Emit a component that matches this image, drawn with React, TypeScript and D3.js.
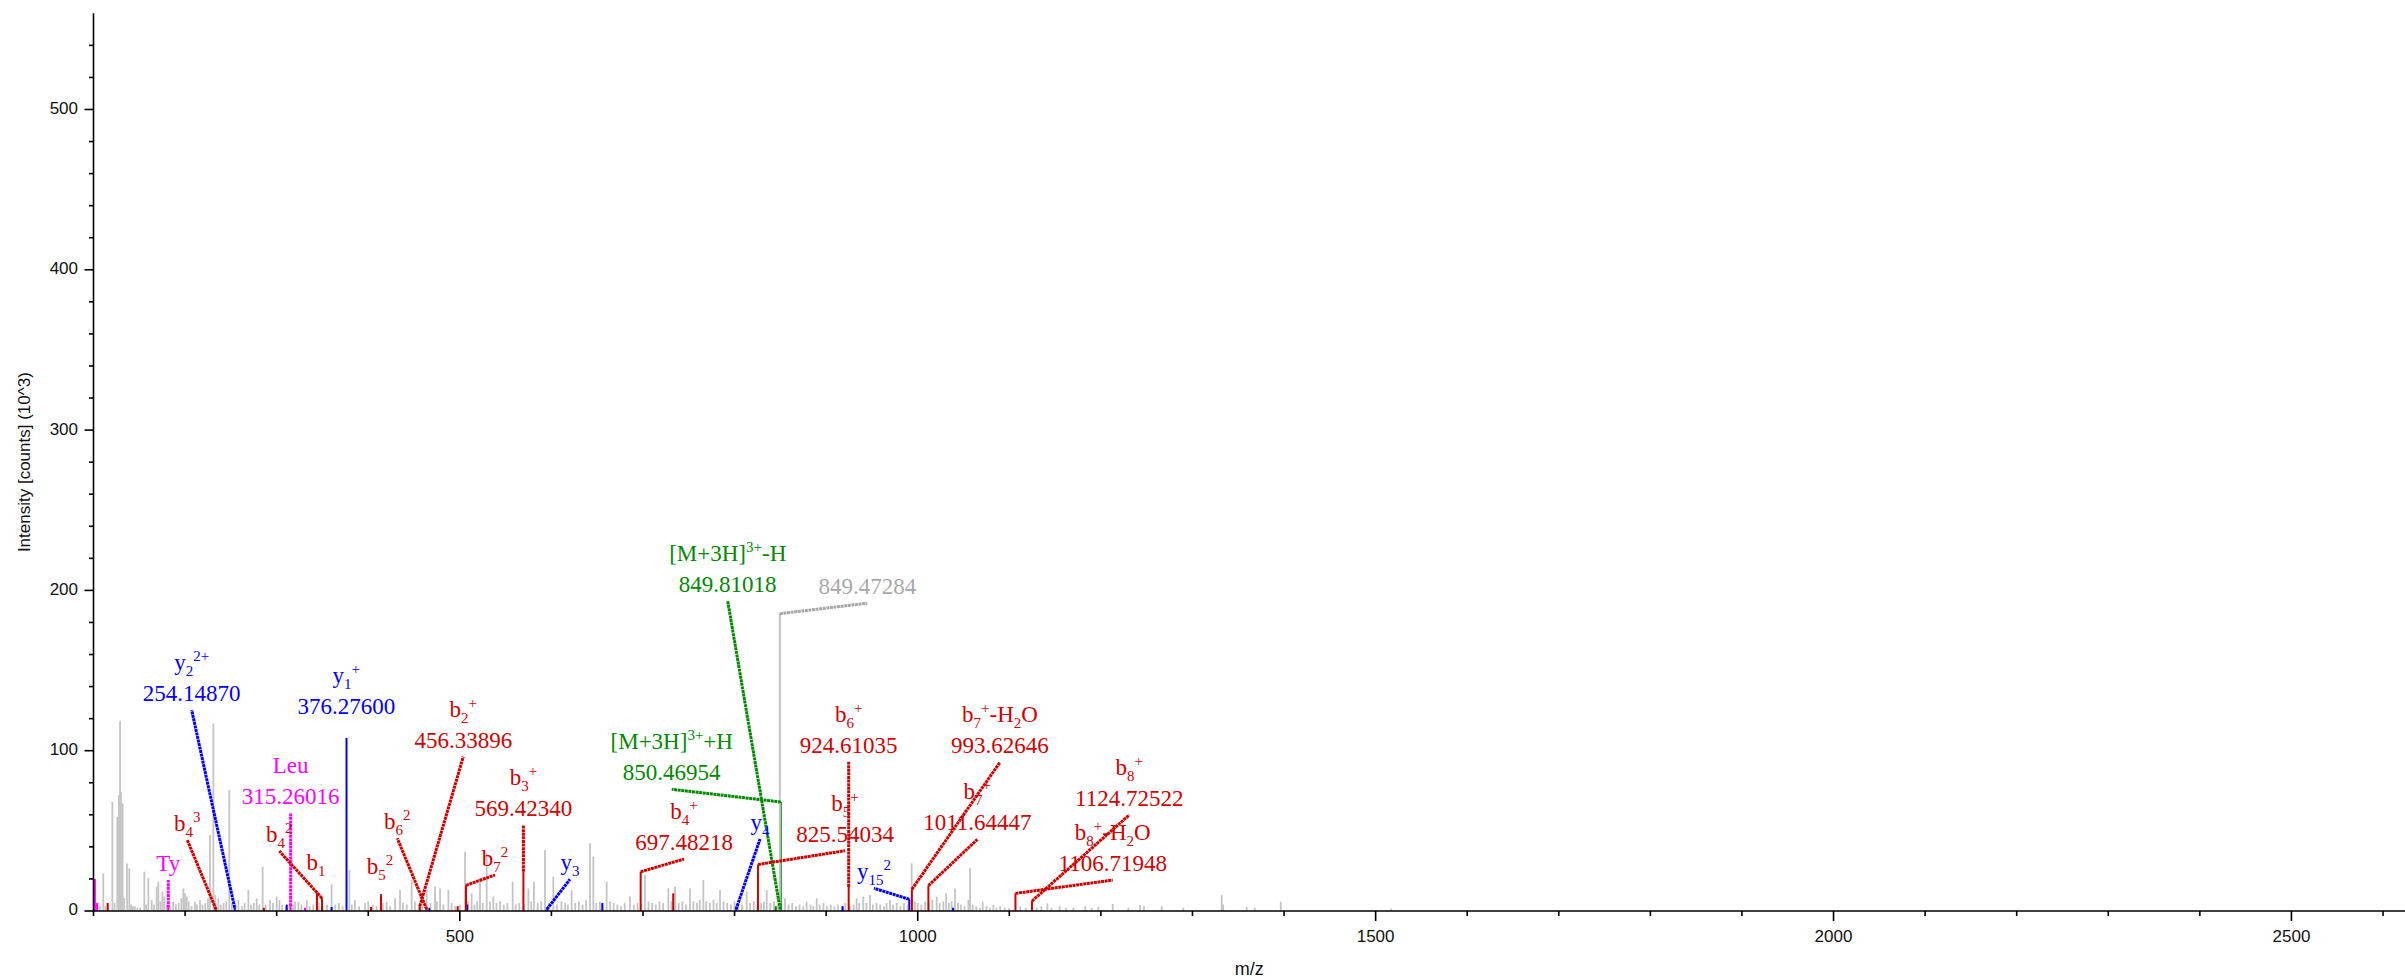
import React, { useEffect } from 'react';
import * as d3 from 'd3';

const W = 2405;
const H = 980;

// ---------- unassigned (gray) peaks: m/z and intensity (10^3 counts) ----------
const grayMz = [103,107,110.7,113,116,120.6,123,126,127.8,129,130,131.8,133.5,136.6,139.1,141,143,145,148,151,155.5,157.5,159.9,163.5,166,169,170.8,173,175.2,177.3,180,184,187,190,193,196,198.1,199.9,201.7,204,207,210.8,213,216.3,219,222,225,227.2,230.9,233,236.3,239,242,245,248.3,251,255,258.2,262,265,269.1,272,275,278.2,281,284.7,288,292.7,296,300,303,306,310,314,318,320,323.7,327,332.8,336,340,346,350,355,360,364,368,372,379.4,382,385.5,390,396.5,400,405,409,416,420.1,424,429.2,434.7,438,442,447.4,451,455,459,463.8,468,472.9,475,478.4,482,487.5,491,495,500,505.7,509,512.9,516,519,522,525,529.3,533,536.6,540,544,548,552,557.7,561,565,570,574.8,578,581,585,589,593,597,602.1,606,611,615,618,622.1,626,630,634,638,642.2,645.8,649,653,656,660.3,664,668,672,676,680,685.8,690,694,698,702.2,706,710,714,718,722,727.7,731,735,739,743,747,751.3,755,759,762,765.9,769,773,777,780.5,784.1,788,792,796,800,804,808,813.2,817,821,825,829,832,835.1,839,843,847,851,855.1,859,863,867,871,875,878.7,883,886,889.7,893,897,901,905,909,913,917,921,926,930,933.3,936,940.6,944,947.9,951,955,959,963,966,969.7,973,977,981,985,989,993.4,997,1000,1004,1008,1012,1016,1020.7,1024,1028,1031,1034,1037,1040.7,1044,1047,1051,1055.3,1057.1,1060,1064,1068,1071,1075,1079,1082.6,1086,1090,1095,1100,1112,1118,1130,1135,1141.6,1146,1155,1162,1170,1183,1190,1197.3,1212.9,1230,1242.8,1247,1266.4,1290,1331.9,1333.5,1359.2,1368,1396.4,1517];
const grayInt = [4,3,23.5,3,2,68.2,5,58.8,72.3,118.7,74.4,67.1,8,29.7,26.6,4,3,3,2,2,24.5,4,20.4,6.9,4,15.2,18.3,6,12,9,4,3,6,4,5,8,14.1,11,9,6,3,5.8,4,6.9,4,5,8,47.4,117,10,7.9,4,5,6,75.5,5,4,6.9,3,5,13.1,4,5,7.9,4,27.6,4,6.9,5,9,6.9,4,3,5,4,6,5.8,4,6.9,3,4,5,3,4,16.6,4,5,3,25.6,4,6.9,3,4.8,6,4,3,5,5.8,3,7.9,13.1,5,4,19.3,6,4,3,13.1,5,15.2,6,14.1,4,13.1,5,3,4,37,6,11,4,6,18.3,5,36,6,9,5,6,4,5,18.3,4,5,4,14.1,6,18.3,5,6,38,5,21.4,4,6,5,4,13.1,5,6,4,7,42.2,33.9,5,6,4,18.3,6,5,4,3,5,9,4,5,4,22.5,6,5,4,6,5,14.1,6,15.2,5,6,4,14.1,6,5,7,19.3,6,5,7,5,13.1,6,5,4,6,5,4,12,5,6,4,5,6,13.1,5,6,4,5,7.9,4,5,3,4,3,5.8,4,3,7.9,4,5,3,4,3,4,3,5,3,4,7.9,5,9,5,10,4,5,4,3,5,6.9,4,5,3,5,4,29.7,6,5,4,6,5,7,9,5,6,11,5,6,14.1,5,4,3,6.9,26.6,4,3,2,5.8,3,2,3.7,2,3,2,2,3,2,2,3,4.8,2,3,2,2,3,2,2.7,4.4,2,3.7,3,3,2,10,4,2.7,2,5.8,1.5];

// ---------- matched peaks without a label ----------
const matchedMz = [101.5,104,115.5,286,311,331,360,403,466.7,497.7,508,655.6,733,845,918,1038.6];
const matchedInt = [20,5,5,2,4,2,2.5,2.5,2,3,4,5,11,3,3,2];
const matchedType = ['imm','imm','b','b','y','imm','y','b','y','b','y','y','b','prec','y','y'];

// ---------- annotated peaks ----------
const annName = ['y_{2}^{2+}','Ty','b_{4}^{3}','Leu','b_{4}^{2}','b_{1}','y_{1}^{+}','b_{5}^{2}','b_{6}^{2}','b_{2}^{+}','b_{7}^{2}','b_{3}^{+}','y_{3}','b_{4}^{+}','y_{4}','[M+3H]^{3+}+H','[M+3H]^{3+}-H','','b_{5}^{+}','b_{6}^{+}','y_{15}^{2}','b_{7}^{+}-H_{2}O','b_{7}^{+}','b_{8}^{+}-H_{2}O','b_{8}^{+}'];
const annMzText = ['254.14870','','','315.26016','','','376.27600','','','456.33896','','569.42340','','697.48218','','850.46954','849.81018','849.47284','825.54034','924.61035','','993.62646','1011.64447','1106.71948','1124.72522'];
const annType = ['y','imm','b','imm','b','b','y','b','b','b','b','b','y','b','y','prec','prec','none','b','b','y','b','b','b','b'];
const annPeakMz = [254.15,181.7,233.8,315.26,349.5,344,376.28,413.9,463.8,456.34,506.7,569.42,594.9,697.48,801.6,850.47,849.81,849.47,825.54,924.61,990.8,993.63,1011.64,1106.72,1124.73];
const annPeakInt = [2,2,1,3,8,11.4,108,10.5,1,3,16,24.5,1,24.5,1,68,1,185.5,29,15,7.3,13.5,15.8,11,6.2];
const annLabelMz = [207.2,181.7,202.4,315.26,302.9,343,376,412.8,431.7,503.8,538.4,569.42,620.3,744.8,827.8,731.4,792.5,944.9,920.6,924.61,952.2,1089.8,1065.1,1212.9,1231.0];
const annLabelInt = [125.4,19.3,44.3,60.9,37.4,20,117,17.5,45.4,96.3,22.5,53.6,19.8,32.4,44.9,75.9,193.4,192,37.6,93.1,14.2,92.8,44.7,19.3,59.9];
const annLeader = [true,true,true,true,true,false,false,false,true,true,true,true,true,true,true,true,true,true,true,true,true,true,true,true,true];

// ---------- axes ----------
const xMajorTicks = [500, 1000, 1500, 2000, 2500];
const yMajorTicks = [0, 100, 200, 300, 400, 500];
const xTitle = 'm/z';
const yTitle = 'Intensity [counts] (10^3)';

const colorOf: Record<string, string> = {
  y: '#0000ff',
  b: '#d40000',
  imm: '#ff00ff',
  prec: '#008a00',
  none: '#a8a8a8',
};
const peakColorOf: Record<string, string> = { ...colorOf, none: '#c4c4c4' };

type Seg = { t: string; m: 'n' | 'sub' | 'sup' };
function parseRich(s: string): Seg[] {
  const out: Seg[] = [];
  let i = 0;
  let buf = '';
  while (i < s.length) {
    if ((s[i] === '_' || s[i] === '^') && s[i + 1] === '{') {
      if (buf) { out.push({ t: buf, m: 'n' }); buf = ''; }
      const end = s.indexOf('}', i);
      out.push({ t: s.slice(i + 2, end), m: s[i] === '_' ? 'sub' : 'sup' });
      i = end + 1;
    } else {
      buf += s[i];
      i++;
    }
  }
  if (buf) out.push({ t: buf, m: 'n' });
  return out;
}

function Rich({ s }: { s: string }) {
  const segs = parseRich(s);
  let cur = 0;
  return (
    <>
      {segs.map((seg, i) => {
        const target = seg.m === 'sub' ? 6 : seg.m === 'sup' ? -9 : 0;
        const dy = target - cur;
        cur = target;
        return (
          <tspan key={i} dy={dy} fontSize={seg.m === 'n' ? undefined : 15}>
            {seg.t}
          </tspan>
        );
      })}
    </>
  );
}

export default function App() {
  useEffect(() => {
    document.body.style.margin = '0';
    document.body.style.overflow = 'hidden';
  }, []);

  const x = d3.scaleLinear().domain([100, 2624]).range([93.5, 2405]);
  const y = d3.scaleLinear().domain([0, 560]).range([911, 13.3]);

  const xMinor = d3.range(100, 2700, 100);
  const yMinor = d3.range(0, 560, 20);

  const labelFont = '"Liberation Serif", "Times New Roman", serif';
  const axisFont = '"Liberation Sans", Arial, sans-serif';
  const lineGap = 31;

  return (
    <svg width={W} height={H} style={{ position: 'absolute', left: 0, top: 0, background: '#fff' }}>
      <rect x={0} y={0} width={W} height={H} fill="#fff" />
      {/* gray peaks */}
      <g stroke="#c4c4c4" strokeWidth={1.8}>
        {grayMz.map((m, i) => (
          <line key={i} x1={x(m)} x2={x(m)} y1={y(0)} y2={y(grayInt[i])} />
        ))}
      </g>
      {/* matched but unlabelled peaks */}
      <g strokeWidth={2}>
        {matchedMz.map((m, i) => (
          <line key={i} x1={x(m)} x2={x(m)} y1={y(0)} y2={y(matchedInt[i])} stroke={peakColorOf[matchedType[i]]} />
        ))}
      </g>
      {/* annotated peaks */}
      <g strokeWidth={2}>
        {annPeakMz.map((m, i) => (
          <line key={i} x1={x(m)} x2={x(m)} y1={y(0)} y2={y(annPeakInt[i])} stroke={peakColorOf[annType[i]]} />
        ))}
      </g>
      {/* leaders */}
      <g strokeWidth={3} strokeLinecap="butt">
        {annPeakMz.map((m, i) =>
          annLeader[i] ? (
            <line
              key={i}
              x1={x(m)}
              y1={y(annPeakInt[i])}
              x2={x(annLabelMz[i])}
              y2={y(annLabelInt[i])}
              stroke={colorOf[annType[i]]}
              strokeDasharray="3 0.6"
            />
          ) : null
        )}
      </g>
      {/* labels */}
      <g fontFamily={labelFont} fontSize={23} textAnchor="middle">
        {annName.map((nm, i) => {
          const cx = x(annLabelMz[i]);
          const base = y(annLabelInt[i]) - 9;
          const col = colorOf[annType[i]];
          const num = annMzText[i];
          return (
            <g key={i} fill={col}>
              {nm && (
                <text x={cx} y={num ? base - lineGap : base}>
                  <Rich s={nm} />
                </text>
              )}
              {num && (
                <text x={cx} y={base}>
                  {num}
                </text>
              )}
            </g>
          );
        })}
      </g>
      {/* y axis */}
      <g stroke="#000" strokeWidth={1.6}>
        <line x1={x(100)} x2={x(100)} y1={y(0) + 1} y2={y(560)} />
        {yMinor.map((v) => (
          <line key={v} x1={x(100) - (v % 100 === 0 ? 9 : 4.5)} x2={x(100)} y1={y(v)} y2={y(v)} />
        ))}
        <line x1={x(100)} x2={W} y1={y(0)} y2={y(0)} />
        {xMinor.map((m) => (
          <line key={m} x1={x(m)} x2={x(m)} y1={y(0)} y2={y(0) + (m % 500 === 0 ? 10 : 5)} />
        ))}
      </g>
      <g fontFamily={axisFont} fontSize={17} fill="#111">
        {yMajorTicks.map((v) => (
          <text key={v} x={78} y={y(v)} textAnchor="end" dominantBaseline="middle">
            {v}
          </text>
        ))}
        {xMajorTicks.map((m) => (
          <text key={m} x={x(m)} y={938} textAnchor="middle" dominantBaseline="middle">
            {m}
          </text>
        ))}
        <text x={(x(100) + W) / 2} y={970} textAnchor="middle" dominantBaseline="middle" fontSize={18}>
          {xTitle}
        </text>
        <text
          transform={`translate(26, ${(y(0) + y(560)) / 2}) rotate(-90)`}
          textAnchor="middle"
          dominantBaseline="middle"
        >
          {yTitle}
        </text>
      </g>
    </svg>
  );
}
